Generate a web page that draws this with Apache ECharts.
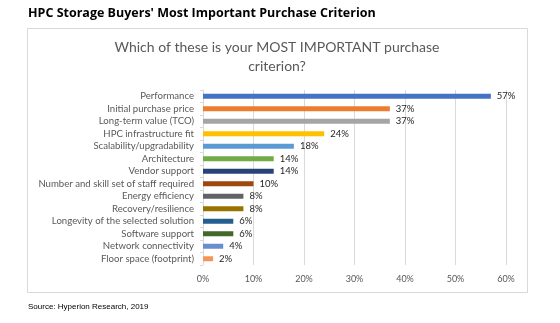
<!DOCTYPE html>
<html>
<head>
<meta charset="utf-8">
<script src="https://cdn.jsdelivr.net/npm/echarts@6/dist/echarts.min.js"></script>
<style>html,body{margin:0;padding:0;background:#fff;}#c{width:560px;height:323px;}</style>
</head>
<body>
<div id="c"></div>
<script>
const categories = [
  "Performance",
  "Initial purchase price",
  "Long-term value (TCO)",
  "HPC infrastructure fit",
  "Scalability/upgradability",
  "Architecture",
  "Vendor support",
  "Number and skill set of staff required",
  "Energy efficiency",
  "Recovery/resilience",
  "Longevity of the selected solution",
  "Software support",
  "Network connectivity",
  "Floor space (footprint)"
];
const values = [57, 37, 37, 24, 18, 14, 14, 10, 8, 8, 6, 6, 4, 2];
const barColors = ["#4472C4","#ED7D31","#A5A5A5","#FFC000","#5B9BD5","#70AD47","#264478",
  "#9E480E","#636363","#997300","#255E91","#43682B","#698ED0","#F1975A"];
const xTicks = [0, 10, 20, 30, 40, 50, 60];
const mainTitle = "HPC Storage Buyers' Most Important Purchase Criterion";
const chartTitleLines = ["Which of these is your MOST IMPORTANT purchase", "criterion?"];
const sourceText = "Source: Hyperion Research, 2019";

const chart = echarts.init(document.getElementById('c'), null, {renderer: 'canvas'});
chart.setOption({
  animation: false,
  backgroundColor: '#ffffff',
  graphic: [
    {
      type: 'rect', left: 27, top: 28, z: -1, silent: true,
      shape: {width: 500, height: 264},
      style: {fill: '#fff', stroke: '#d9d9d9', lineWidth: 1}
    },
    {
      type: 'text', x: 28, y: 13, silent: true,
      style: {text: mainTitle, textAlign: 'left', textVerticalAlign: 'middle',
        font: 'bold 12.5px "Open Sans"', fill: '#000'}
    },
    {
      type: 'text', x: 277, y: 47, silent: true,
      style: {text: chartTitleLines[0], textAlign: 'center', textVerticalAlign: 'middle',
        font: '14px Lato', fill: '#595959'}
    },
    {
      type: 'text', x: 277, y: 66, silent: true,
      style: {text: chartTitleLines[1], textAlign: 'center', textVerticalAlign: 'middle',
        font: '14px Lato', fill: '#595959'}
    },
    {
      type: 'text', x: 28, y: 307, silent: true,
      style: {text: sourceText, textAlign: 'left', textVerticalAlign: 'middle',
        font: '8px "Liberation Sans"', fill: '#000'}
    }
  ],
  grid: {left: 203, right: 54, top: 90, bottom: 58, containLabel: false},
  xAxis: {
    type: 'value', min: 0, max: 60, interval: 10,
    axisLine: {show: false}, axisTick: {show: false},
    axisLabel: {formatter: '{value}%', color: '#595959', fontSize: 9, fontFamily: 'Lato', margin: 10},
    splitLine: {lineStyle: {color: '#d9d9d9', width: 1}}
  },
  yAxis: {
    type: 'category', data: categories, inverse: true,
    axisLine: {show: true, lineStyle: {color: '#d9d9d9'}},
    axisTick: {show: true, length: 3, lineStyle: {color: '#d9d9d9'}},
    axisLabel: {interval: 0, color: '#595959', fontSize: 9.6, fontFamily: 'Lato', margin: 9}
  },
  series: [{
    type: 'bar',
    barWidth: 5,
    data: values.map((v, i) => ({value: v, itemStyle: {color: barColors[i]}})),
    label: {show: true, position: 'right', distance: 6, formatter: '{c}%',
      color: '#262626', fontSize: 9.5, fontFamily: 'Lato'}
  }]
});
</script>
</body>
</html>
